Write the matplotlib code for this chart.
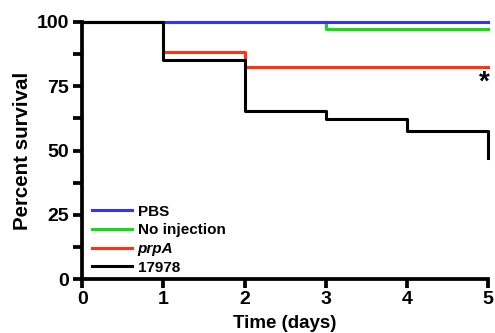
import matplotlib
matplotlib.use('Agg')
import matplotlib.pyplot as plt
from matplotlib.ticker import MultipleLocator

plt.rcParams['font.family'] = ['Liberation Sans', 'DejaVu Sans']
plt.rcParams['font.weight'] = 'bold'

# Survival curves (Kaplan-Meier style steps)
pbs_t = [0, 5]
pbs_s = [100, 100]
noinj_t = [0, 3, 5]
noinj_s = [100, 97.2, 97.2]
prpa_t = [0, 1, 2, 5]
prpa_s = [100, 88.2, 82.5, 82.5]
wt_t = [0, 1, 2, 3, 4, 5]
wt_s = [100, 85.2, 65.5, 62.3, 57.5, 47]

labels = ['PBS', 'No injection', 'prpA', '17978']
colors = ['#3333ff', '#11dd11', '#ff3311', 'black']

fig = plt.figure(figsize=(4.95, 3.33), dpi=100)
ax = fig.add_axes([0.166, 0.162, 0.820, 0.772])

lw = 2.2
h_noinj, = ax.step(noinj_t, noinj_s, where='post', color=colors[1], lw=lw,
                   label=labels[1], zorder=2, clip_on=False)
h_pbs, = ax.step(pbs_t, pbs_s, where='post', color=colors[0], lw=lw,
                 label=labels[0], zorder=3, clip_on=False)
h_prpa, = ax.step(prpa_t, prpa_s, where='post', color=colors[2], lw=lw,
                  label=labels[2], zorder=4, clip_on=False)
h_wt, = ax.step(wt_t, wt_s, where='post', color=colors[3], lw=lw,
                label=labels[3], zorder=5, clip_on=False)

ax.text(4.95, 76.5, '*', fontsize=20, fontweight='bold', ha='center', va='center')

ax.set_xlim(0, 5)
ax.set_ylim(0, 100)
ax.set_xticks(range(6))
ax.set_yticks([0, 25, 50, 75, 100])
ax.yaxis.set_minor_locator(MultipleLocator(12.5))

for s in ['top', 'right']:
    ax.spines[s].set_visible(False)
for s in ['left', 'bottom']:
    ax.spines[s].set_linewidth(2.7)

ax.tick_params(axis='both', which='both', width=2.7, length=6.5, direction='out',
               labelsize=14)
ax.tick_params(axis='y', pad=3)
ax.tick_params(axis='x', pad=2)
ax.set_ylabel('Percent survival', fontsize=14.8, fontweight='bold', labelpad=3)
ax.set_xlabel('Time (days)', fontsize=13.5, fontweight='bold', labelpad=5.5)

leg = ax.legend(handles=[h_pbs, h_noinj, h_prpa, h_wt], loc='lower left',
                bbox_to_anchor=(0.005, -0.012), frameon=False, fontsize=11,
                handlelength=2.6, handletextpad=0.4, labelspacing=0.3,
                borderaxespad=0.1)
leg.get_texts()[2].set_style('italic')

fig.savefig('out.png', dpi=100)
